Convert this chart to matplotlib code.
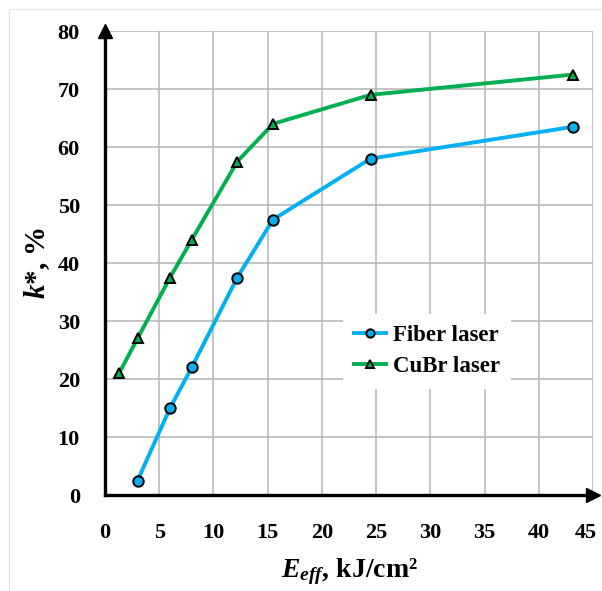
import matplotlib.pyplot as plt
import matplotlib.transforms as mtransforms
from matplotlib.patches import Rectangle

plt.rcParams["font.family"] = "Liberation Serif"
plt.rcParams["font.weight"] = "bold"
plt.rcParams["axes.labelweight"] = "bold"
plt.rcParams["mathtext.fontset"] = "custom"
plt.rcParams["mathtext.rm"] = "Liberation Serif:bold"
plt.rcParams["mathtext.it"] = "Liberation Serif:italic:bold"
plt.rcParams["mathtext.bf"] = "Liberation Serif:bold"

# data
fiber_x = [3, 6, 8, 12.2, 15.5, 24.5, 43.2]
fiber_y = [2.5, 15, 22, 37.5, 47.5, 58, 63.5]
cubr_x = [1.3, 3, 6, 8, 12.2, 15.5, 24.5, 43.2]
cubr_y = [21, 27, 37.5, 44, 57.5, 64, 69, 72.5]
xticks = [0, 5, 10, 15, 20, 25, 30, 35, 40, 45]
yticks = [0, 10, 20, 30, 40, 50, 60, 70, 80]

fig = plt.figure(figsize=(6.02, 5.91), dpi=100)
fig.patches.append(Rectangle((0.015, -0.1), 1.1, 1.085, transform=fig.transFigure,
                             fill=False, edgecolor="#e6e6e6", linewidth=0.8))
ax = fig.add_axes([0.1744, 0.1624, 0.8106, 0.7851])

ax.plot(fiber_x, fiber_y, color="#00b0f0", lw=2.8, marker="o", ms=7.5,
        mfc="#00b0f0", mec="black", mew=1.4, label="Fiber laser", zorder=3)
ax.plot(cubr_x, cubr_y, color="#00b050", lw=2.8, marker="^", ms=7.5,
        mfc="#00b050", mec="black", mew=1.4, label="CuBr laser", zorder=3)

ax.set_xlim(0, 45)
ax.set_ylim(0, 80)
ax.set_xticks(xticks)
ax.set_yticks(yticks)
ax.grid(True, color="#b4b4b4", lw=1.1)
ax.set_axisbelow(True)
ax.tick_params(length=0, labelsize=16, pad=18)
ax.tick_params(axis="x", pad=20)

# last x label sits on the edge, pull it in a little
last = ax.get_xticklabels()[-1]
last.set_transform(last.get_transform() +
                   mtransforms.ScaledTranslation(-5 / 72, 0, fig.dpi_scale_trans))

for s in ["top", "right"]:
    ax.spines[s].set_visible(False)
for s in ["left", "bottom"]:
    ax.spines[s].set_linewidth(2.4)
    ax.spines[s].set_zorder(4)
ax.plot(1, 0, ">k", ms=10, transform=ax.get_yaxis_transform(), clip_on=False, zorder=5)
ax.plot(0, 1, "^k", ms=10, transform=ax.get_xaxis_transform(), clip_on=False, zorder=5)

ax.set_xlabel(r"$E_{eff}$, kJ/cm²", fontsize=20, fontweight="bold", labelpad=10)
ax.set_ylabel(r"$k$*, %", fontsize=21, fontweight="bold", labelpad=4)

leg = ax.legend(loc="center", bbox_to_anchor=(0.66, 0.31), frameon=True, fancybox=False,
                edgecolor="none", facecolor="white", framealpha=1,
                prop={"size": 16.5, "weight": "bold"},
                handlelength=1.4, handletextpad=0.3, borderpad=0.5, labelspacing=0.45)
for h in leg.legend_handles:
    h.set_markersize(6)

fig.savefig("out.png", dpi=100)
